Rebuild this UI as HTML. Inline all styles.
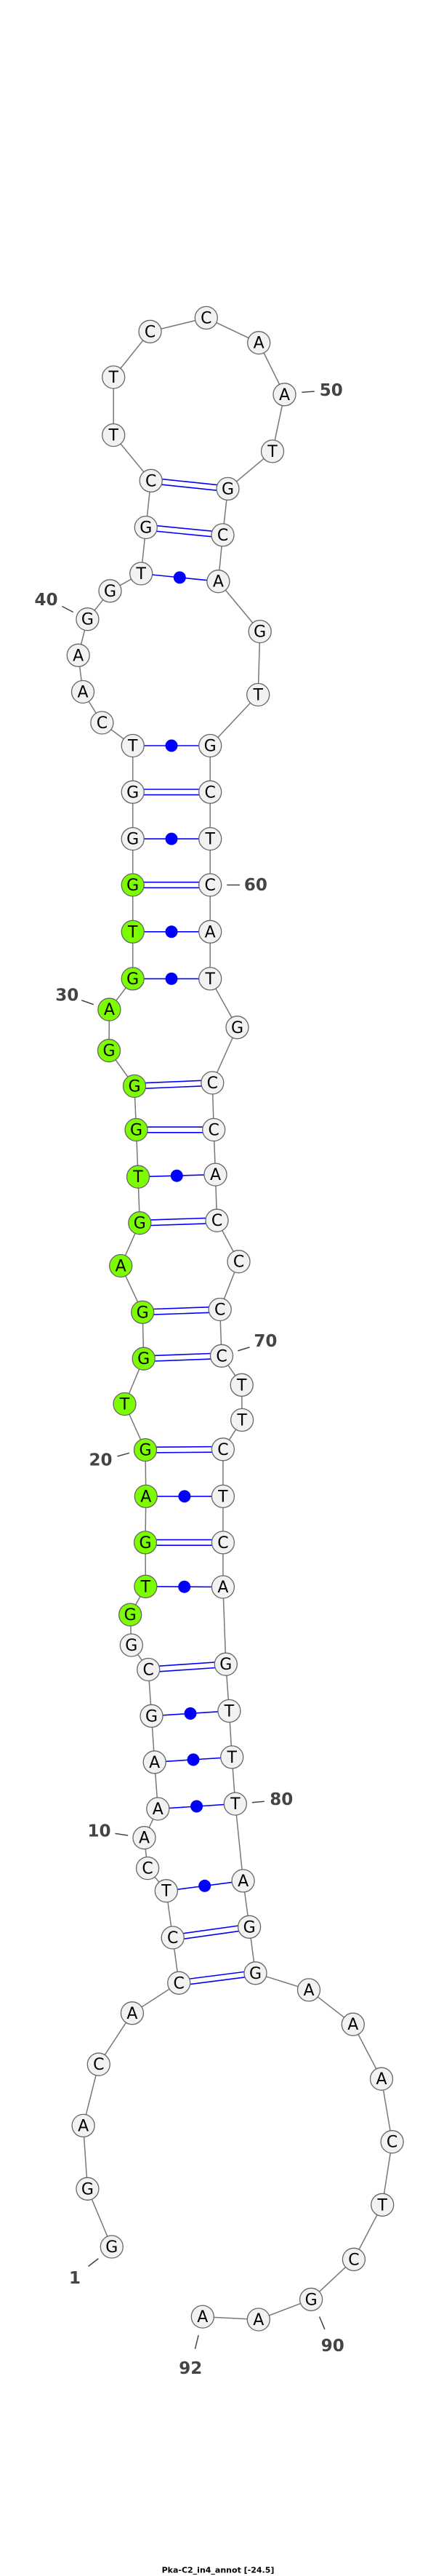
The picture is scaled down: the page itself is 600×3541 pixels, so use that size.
<!DOCTYPE html>
<html><head><meta charset="utf-8"><style>
html,body{margin:0;padding:0;background:#fff}
svg{display:block}
.n{fill:#f2f2f2;stroke:#666;stroke-width:1.3}
.g{fill:#7cfc00;stroke:#666;stroke-width:1.3}
.t{font-family:"DejaVu Sans","Liberation Sans",sans-serif;font-size:22px;fill:#000;text-anchor:middle;dominant-baseline:central}
.l{font-family:"DejaVu Sans","Liberation Sans",sans-serif;font-size:23px;font-weight:bold;fill:#444;text-anchor:middle;dominant-baseline:central}
.p{stroke:#0000ff;stroke-width:1.6;fill:none}
.k{stroke:#444;stroke-width:1.5}
</style></head><body>
<svg width="600" height="3541" viewBox="0 0 600 3541" xmlns="http://www.w3.org/2000/svg">
<polyline fill="none" stroke="#777" stroke-width="1.5" points="153.8,3088.5 120.4,3008.8 114.6,2921.9 135.8,2837.7 181.9,2767.3 246.2,2725.8 237.7,2663.5 228.8,2599.2 203.1,2568.1 198.5,2526.2 217.3,2486.5 212.7,2422.3 208.5,2358.8 204.2,2295 180.8,2261.5 179.2,2219.6 200.4,2180.8 200,2120.4 200.8,2056.9 200,1993.1 171.5,1930 197.7,1867.7 196.2,1803.8 166.2,1740 192.3,1681.2 190,1617.7 187.5,1553 185,1493 150,1444.2 150.4,1387.7 182.7,1345.4 182.7,1280.8 182.7,1216.5 182.7,1153.1 182.7,1088.8 182.7,1025 140.4,993.5 114,951 107.7,900.8 120.4,851.2 151.5,812.3 194.2,788.5 200.8,725 207.7,660.8 156.2,598.1 156.2,518.5 206.5,455.8 283.8,436.9 356.2,471.2 391.5,542.3 375,620.4 313.5,671.9 306.5,735.4 300.4,799.2 357.7,868.1 355.2,955 289.2,1025 289.2,1088.8 289.2,1153.1 289.2,1216.5 289.2,1280.8 289.2,1345.4 326.5,1412.3 292.3,1488.5 294.2,1553 296.5,1614.6 298.5,1677.7 328.5,1734.2 302.7,1800 305,1863.8 332.7,1903.8 333.1,1951.9 306.9,1992.3 306.9,2056.9 306.9,2120.4 306.9,2181.5 310.8,2287.7 315.4,2351.9 319.2,2415.4 323.8,2479.6 334.6,2585.4 343.1,2648.8 351.5,2712.3 425,2735.4 485.8,2782.7 525,2857.7 539.6,2944.2 526.2,3030.8 486.9,3105.8 428.1,3160.8 355.8,3188.5 278.8,3184.6"/>
<g class="p">
<!-- doubles -->
<path d="M207.7,657 L313.5,668.1 M207.7,664.6 L313.5,675.7"/>
<path d="M200.8,721.2 L306.5,731.6 M200.8,728.8 L306.5,739.2"/>
<path d="M182.7,1085 L289.2,1085 M182.7,1092.6 L289.2,1092.6"/>
<path d="M182.7,1212.7 L289.2,1212.7 M182.7,1220.3 L289.2,1220.3"/>
<path d="M185,1489.2 L292.3,1484.7 M185,1496.8 L292.3,1492.3"/>
<path d="M187.5,1549.2 L294.2,1549.2 M187.5,1556.8 L294.2,1556.8"/>
<path d="M192.3,1677.4 L298.5,1673.9 M192.3,1685 L298.5,1681.5"/>
<path d="M196.2,1800 L302.7,1796.2 M196.2,1807.6 L302.7,1803.8"/>
<path d="M197.7,1863.9 L305,1860 M197.7,1871.5 L305,1867.6"/>
<path d="M200,1989.3 L306.9,1988.5 M200,1996.9 L306.9,1996.1"/>
<path d="M200,2116.6 L306.9,2116.6 M200,2124.2 L306.9,2124.2"/>
<path d="M204.2,2291.2 L310.8,2283.9 M204.2,2298.8 L310.8,2291.5"/>
<path d="M237.7,2659.7 L343.1,2645 M237.7,2667.3 L343.1,2652.6"/>
<path d="M246.2,2722 L351.5,2708.5 M246.2,2729.6 L351.5,2716.1"/>
<!-- singles -->
<path d="M194.2,788.5 L300.4,799.2"/>
<path d="M182.7,1025 L289.2,1025"/>
<path d="M182.7,1153.1 L289.2,1153.1"/>
<path d="M182.7,1280.8 L289.2,1280.8"/>
<path d="M182.7,1345.4 L289.2,1345.4"/>
<path d="M190,1617.7 L296.5,1614.6"/>
<path d="M200.8,2056.9 L306.9,2056.9"/>
<path d="M200.4,2180.8 L306.9,2181.5"/>
<path d="M208.5,2358.8 L315.4,2351.9"/>
<path d="M212.7,2422.3 L319.2,2415.4"/>
<path d="M217.3,2486.5 L323.8,2479.6"/>
<path d="M228.8,2599.2 L334.6,2585.4"/>
</g>
<g fill="#0000ff">
<circle cx="247.3" cy="793.9" r="8.5"/>
<circle cx="236" cy="1025" r="8.5"/>
<circle cx="236" cy="1153.1" r="8.5"/>
<circle cx="236" cy="1280.8" r="8.5"/>
<circle cx="236" cy="1345.4" r="8.5"/>
<circle cx="243.3" cy="1616.2" r="8.5"/>
<circle cx="253.9" cy="2056.9" r="8.5"/>
<circle cx="253.7" cy="2181.2" r="8.5"/>
<circle cx="262" cy="2355.4" r="8.5"/>
<circle cx="266" cy="2418.9" r="8.5"/>
<circle cx="270.6" cy="2483" r="8.5"/>
<circle cx="281.7" cy="2592.3" r="8.5"/>
</g>
<g>
<circle class="n" cx="153.8" cy="3088.5" r="15.5"/><text class="t" x="153.8" y="3089.5">G</text>
<circle class="n" cx="120.4" cy="3008.8" r="15.5"/><text class="t" x="120.4" y="3009.8">G</text>
<circle class="n" cx="114.6" cy="2921.9" r="15.5"/><text class="t" x="114.6" y="2922.9">A</text>
<circle class="n" cx="135.8" cy="2837.7" r="15.5"/><text class="t" x="135.8" y="2838.7">C</text>
<circle class="n" cx="181.9" cy="2767.3" r="15.5"/><text class="t" x="181.9" y="2768.3">A</text>
<circle class="n" cx="246.2" cy="2725.8" r="15.5"/><text class="t" x="246.2" y="2726.8">C</text>
<circle class="n" cx="237.7" cy="2663.5" r="15.5"/><text class="t" x="237.7" y="2664.5">C</text>
<circle class="n" cx="228.8" cy="2599.2" r="15.5"/><text class="t" x="228.8" y="2600.2">T</text>
<circle class="n" cx="203.1" cy="2568.1" r="15.5"/><text class="t" x="203.1" y="2569.1">C</text>
<circle class="n" cx="198.5" cy="2526.2" r="15.5"/><text class="t" x="198.5" y="2527.2">A</text>
<circle class="n" cx="217.3" cy="2486.5" r="15.5"/><text class="t" x="217.3" y="2487.5">A</text>
<circle class="n" cx="212.7" cy="2422.3" r="15.5"/><text class="t" x="212.7" y="2423.3">A</text>
<circle class="n" cx="208.5" cy="2358.8" r="15.5"/><text class="t" x="208.5" y="2359.8">G</text>
<circle class="n" cx="204.2" cy="2295" r="15.5"/><text class="t" x="204.2" y="2296">C</text>
<circle class="n" cx="180.8" cy="2261.5" r="15.5"/><text class="t" x="180.8" y="2262.5">G</text>
<circle class="g" cx="179.2" cy="2219.6" r="15.5"/><text class="t" x="179.2" y="2220.6">G</text>
<circle class="g" cx="200.4" cy="2180.8" r="15.5"/><text class="t" x="200.4" y="2181.8">T</text>
<circle class="g" cx="200" cy="2120.4" r="15.5"/><text class="t" x="200" y="2121.4">G</text>
<circle class="g" cx="200.8" cy="2056.9" r="15.5"/><text class="t" x="200.8" y="2057.9">A</text>
<circle class="g" cx="200" cy="1993.1" r="15.5"/><text class="t" x="200" y="1994.1">G</text>
<circle class="g" cx="171.5" cy="1930" r="15.5"/><text class="t" x="171.5" y="1931">T</text>
<circle class="g" cx="197.7" cy="1867.7" r="15.5"/><text class="t" x="197.7" y="1868.7">G</text>
<circle class="g" cx="196.2" cy="1803.8" r="15.5"/><text class="t" x="196.2" y="1804.8">G</text>
<circle class="g" cx="166.2" cy="1740" r="15.5"/><text class="t" x="166.2" y="1741">A</text>
<circle class="g" cx="192.3" cy="1681.2" r="15.5"/><text class="t" x="192.3" y="1682.2">G</text>
<circle class="g" cx="190" cy="1617.7" r="15.5"/><text class="t" x="190" y="1618.7">T</text>
<circle class="g" cx="187.5" cy="1553" r="15.5"/><text class="t" x="187.5" y="1554">G</text>
<circle class="g" cx="185" cy="1493" r="15.5"/><text class="t" x="185" y="1494">G</text>
<circle class="g" cx="150" cy="1444.2" r="15.5"/><text class="t" x="150" y="1445.2">G</text>
<circle class="g" cx="150.4" cy="1387.7" r="15.5"/><text class="t" x="150.4" y="1388.7">A</text>
<circle class="g" cx="182.7" cy="1345.4" r="15.5"/><text class="t" x="182.7" y="1346.4">G</text>
<circle class="g" cx="182.7" cy="1280.8" r="15.5"/><text class="t" x="182.7" y="1281.8">T</text>
<circle class="g" cx="182.7" cy="1216.5" r="15.5"/><text class="t" x="182.7" y="1217.5">G</text>
<circle class="n" cx="182.7" cy="1153.1" r="15.5"/><text class="t" x="182.7" y="1154.1">G</text>
<circle class="n" cx="182.7" cy="1088.8" r="15.5"/><text class="t" x="182.7" y="1089.8">G</text>
<circle class="n" cx="182.7" cy="1025" r="15.5"/><text class="t" x="182.7" y="1026">T</text>
<circle class="n" cx="140.4" cy="993.5" r="15.5"/><text class="t" x="140.4" y="994.5">C</text>
<circle class="n" cx="114" cy="951" r="15.5"/><text class="t" x="114" y="952">A</text>
<circle class="n" cx="107.7" cy="900.8" r="15.5"/><text class="t" x="107.7" y="901.8">A</text>
<circle class="n" cx="120.4" cy="851.2" r="15.5"/><text class="t" x="120.4" y="852.2">G</text>
<circle class="n" cx="151.5" cy="812.3" r="15.5"/><text class="t" x="151.5" y="813.3">G</text>
<circle class="n" cx="194.2" cy="788.5" r="15.5"/><text class="t" x="194.2" y="789.5">T</text>
<circle class="n" cx="200.8" cy="725" r="15.5"/><text class="t" x="200.8" y="726">G</text>
<circle class="n" cx="207.7" cy="660.8" r="15.5"/><text class="t" x="207.7" y="661.8">C</text>
<circle class="n" cx="156.2" cy="598.1" r="15.5"/><text class="t" x="156.2" y="599.1">T</text>
<circle class="n" cx="156.2" cy="518.5" r="15.5"/><text class="t" x="156.2" y="519.5">T</text>
<circle class="n" cx="206.5" cy="455.8" r="15.5"/><text class="t" x="206.5" y="456.8">C</text>
<circle class="n" cx="283.8" cy="436.9" r="15.5"/><text class="t" x="283.8" y="437.9">C</text>
<circle class="n" cx="356.2" cy="471.2" r="15.5"/><text class="t" x="356.2" y="472.2">A</text>
<circle class="n" cx="391.5" cy="542.3" r="15.5"/><text class="t" x="391.5" y="543.3">A</text>
<circle class="n" cx="375" cy="620.4" r="15.5"/><text class="t" x="375" y="621.4">T</text>
<circle class="n" cx="313.5" cy="671.9" r="15.5"/><text class="t" x="313.5" y="672.9">G</text>
<circle class="n" cx="306.5" cy="735.4" r="15.5"/><text class="t" x="306.5" y="736.4">C</text>
<circle class="n" cx="300.4" cy="799.2" r="15.5"/><text class="t" x="300.4" y="800.2">A</text>
<circle class="n" cx="357.7" cy="868.1" r="15.5"/><text class="t" x="357.7" y="869.1">G</text>
<circle class="n" cx="355.2" cy="955" r="15.5"/><text class="t" x="355.2" y="956">T</text>
<circle class="n" cx="289.2" cy="1025" r="15.5"/><text class="t" x="289.2" y="1026">G</text>
<circle class="n" cx="289.2" cy="1088.8" r="15.5"/><text class="t" x="289.2" y="1089.8">C</text>
<circle class="n" cx="289.2" cy="1153.1" r="15.5"/><text class="t" x="289.2" y="1154.1">T</text>
<circle class="n" cx="289.2" cy="1216.5" r="15.5"/><text class="t" x="289.2" y="1217.5">C</text>
<circle class="n" cx="289.2" cy="1280.8" r="15.5"/><text class="t" x="289.2" y="1281.8">A</text>
<circle class="n" cx="289.2" cy="1345.4" r="15.5"/><text class="t" x="289.2" y="1346.4">T</text>
<circle class="n" cx="326.5" cy="1412.3" r="15.5"/><text class="t" x="326.5" y="1413.3">G</text>
<circle class="n" cx="292.3" cy="1488.5" r="15.5"/><text class="t" x="292.3" y="1489.5">C</text>
<circle class="n" cx="294.2" cy="1553" r="15.5"/><text class="t" x="294.2" y="1554">C</text>
<circle class="n" cx="296.5" cy="1614.6" r="15.5"/><text class="t" x="296.5" y="1615.6">A</text>
<circle class="n" cx="298.5" cy="1677.7" r="15.5"/><text class="t" x="298.5" y="1678.7">C</text>
<circle class="n" cx="328.5" cy="1734.2" r="15.5"/><text class="t" x="328.5" y="1735.2">C</text>
<circle class="n" cx="302.7" cy="1800" r="15.5"/><text class="t" x="302.7" y="1801">C</text>
<circle class="n" cx="305" cy="1863.8" r="15.5"/><text class="t" x="305" y="1864.8">C</text>
<circle class="n" cx="332.7" cy="1903.8" r="15.5"/><text class="t" x="332.7" y="1904.8">T</text>
<circle class="n" cx="333.1" cy="1951.9" r="15.5"/><text class="t" x="333.1" y="1952.9">T</text>
<circle class="n" cx="306.9" cy="1992.3" r="15.5"/><text class="t" x="306.9" y="1993.3">C</text>
<circle class="n" cx="306.9" cy="2056.9" r="15.5"/><text class="t" x="306.9" y="2057.9">T</text>
<circle class="n" cx="306.9" cy="2120.4" r="15.5"/><text class="t" x="306.9" y="2121.4">C</text>
<circle class="n" cx="306.9" cy="2181.5" r="15.5"/><text class="t" x="306.9" y="2182.5">A</text>
<circle class="n" cx="310.8" cy="2287.7" r="15.5"/><text class="t" x="310.8" y="2288.7">G</text>
<circle class="n" cx="315.4" cy="2351.9" r="15.5"/><text class="t" x="315.4" y="2352.9">T</text>
<circle class="n" cx="319.2" cy="2415.4" r="15.5"/><text class="t" x="319.2" y="2416.4">T</text>
<circle class="n" cx="323.8" cy="2479.6" r="15.5"/><text class="t" x="323.8" y="2480.6">T</text>
<circle class="n" cx="334.6" cy="2585.4" r="15.5"/><text class="t" x="334.6" y="2586.4">A</text>
<circle class="n" cx="343.1" cy="2648.8" r="15.5"/><text class="t" x="343.1" y="2649.8">G</text>
<circle class="n" cx="351.5" cy="2712.3" r="15.5"/><text class="t" x="351.5" y="2713.3">G</text>
<circle class="n" cx="425" cy="2735.4" r="15.5"/><text class="t" x="425" y="2736.4">A</text>
<circle class="n" cx="485.8" cy="2782.7" r="15.5"/><text class="t" x="485.8" y="2783.7">A</text>
<circle class="n" cx="525" cy="2857.7" r="15.5"/><text class="t" x="525" y="2858.7">A</text>
<circle class="n" cx="539.6" cy="2944.2" r="15.5"/><text class="t" x="539.6" y="2945.2">C</text>
<circle class="n" cx="526.2" cy="3030.8" r="15.5"/><text class="t" x="526.2" y="3031.8">T</text>
<circle class="n" cx="486.9" cy="3105.8" r="15.5"/><text class="t" x="486.9" y="3106.8">C</text>
<circle class="n" cx="428.1" cy="3160.8" r="15.5"/><text class="t" x="428.1" y="3161.8">G</text>
<circle class="n" cx="355.8" cy="3188.5" r="15.5"/><text class="t" x="355.8" y="3189.5">A</text>
<circle class="n" cx="278.8" cy="3184.6" r="15.5"/><text class="t" x="278.8" y="3185.6">A</text>
</g>
<g class="k">
<line x1="415.4" y1="539.2" x2="432.7" y2="538"/>
<line x1="85.4" y1="833.5" x2="100.8" y2="841.5"/>
<line x1="312.3" y1="1216.5" x2="330" y2="1216.5"/>
<line x1="112.3" y1="1375" x2="128.8" y2="1380.8"/>
<line x1="327.3" y1="1856.9" x2="343.5" y2="1851.9"/>
<line x1="161.5" y1="2001.9" x2="178" y2="1997.3"/>
<line x1="346.9" y1="2477.7" x2="363.8" y2="2476.2"/>
<line x1="158.5" y1="2520.4" x2="176.2" y2="2523"/>
<line x1="121.5" y1="3115.4" x2="135.4" y2="3104.6"/>
<line x1="439.6" y1="3184.6" x2="446.9" y2="3201.9"/>
<line x1="273.1" y1="3210" x2="268.5" y2="3228.8"/>
</g>
<text class="l" x="455.8" y="537">50</text>
<text class="l" x="63.5" y="825">40</text>
<text class="l" x="351.9" y="1217">60</text>
<text class="l" x="92.3" y="1368.5">30</text>
<text class="l" x="365.4" y="1844">70</text>
<text class="l" x="138.5" y="2007.7">20</text>
<text class="l" x="387.3" y="2474">80</text>
<text class="l" x="136.5" y="2517.3">10</text>
<text class="l" x="103" y="3132">1</text>
<text class="l" x="457.7" y="3225">90</text>
<text class="l" x="262.3" y="3255.8">92</text>
<text x="300" y="3533" font-family="'DejaVu Sans','Liberation Sans',sans-serif" font-size="11" font-weight="bold" text-anchor="middle" dominant-baseline="central" fill="#000">Pka-C2_in4_annot [-24.5]</text>
</svg>
</body></html>
